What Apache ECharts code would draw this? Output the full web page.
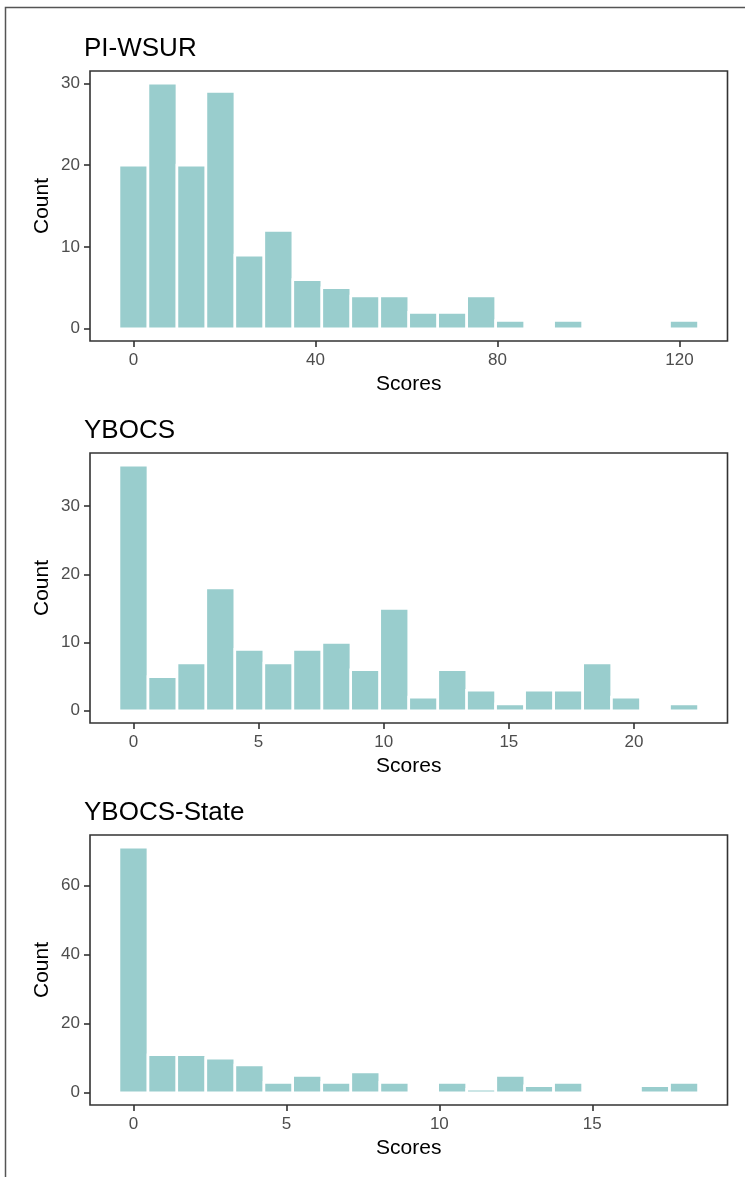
<!DOCTYPE html>
<html><head><meta charset="utf-8">
<script src="https://cdn.jsdelivr.net/npm/echarts@6/dist/echarts.min.js"></script>
<style>html,body{margin:0;padding:0;background:#fff}#c{width:745px;height:1177px}</style>
</head><body><div id="c"></div>
<script>
// ---- data ----
const panelTitles = ['PI-WSUR', 'YBOCS', 'YBOCS-State'];
const xAxisName = 'Scores';
const yAxisName = 'Count';

const pwCenters = [0, 6.37, 12.74, 19.11, 25.47, 31.84, 38.21, 44.58, 50.95, 57.32, 63.68, 70.05, 76.42, 82.79, 89.16, 95.53, 101.89, 108.26, 114.63, 121];
const pwCounts  = [20, 30, 20, 29, 9, 12, 6, 5, 4, 4, 2, 2, 4, 1, 0, 1, 0, 0, 0, 1];
const pwBinWidth = 6.37;
const pwXTicks = [0, 40, 80, 120];
const pwYTicks = [0, 10, 20, 30];

const ybCenters = [0, 1.16, 2.32, 3.47, 4.63, 5.79, 6.95, 8.11, 9.26, 10.42, 11.58, 12.74, 13.89, 15.05, 16.21, 17.37, 18.53, 19.68, 20.84, 22];
const ybCounts  = [36, 5, 7, 18, 9, 7, 9, 10, 6, 15, 2, 6, 3, 1, 3, 3, 7, 2, 0, 1];
const ybBinWidth = 1.158;
const ybXTicks = [0, 5, 10, 15, 20];
const ybYTicks = [0, 10, 20, 30];

const ysCenters = [0, 0.95, 1.89, 2.84, 3.79, 4.74, 5.68, 6.63, 7.58, 8.53, 9.47, 10.42, 11.37, 12.32, 13.26, 14.21, 15.16, 16.11, 17.05, 18];
const ysCounts  = [71, 11, 11, 10, 8, 3, 5, 3, 6, 3, 0, 3, 1, 5, 2, 3, 0, 0, 2, 3];
const ysBinWidth = 0.947;
const ysXTicks = [0, 5, 10, 15];
const ysYTicks = [0, 20, 40, 60];

// ---- layout / style ----
const FONT = "'Liberation Sans', Arial, sans-serif";
const BAR = '#99cdcd';
const panels = [
  {title: panelTitles[0], c: pwCenters, n: pwCounts, bw: pwBinWidth, xt: pwXTicks, yt: pwYTicks},
  {title: panelTitles[1], c: ybCenters, n: ybCounts, bw: ybBinWidth, xt: ybXTicks, yt: ybYTicks},
  {title: panelTitles[2], c: ysCenters, n: ysCounts, bw: ysBinWidth, xt: ysXTicks, yt: ysYTicks}
];
const tops = [71, 453, 835];
const gridH = 270;

const option = {
  animation: false,
  backgroundColor: '#fff',
  title: [], grid: [], xAxis: [], yAxis: [], series: [],
  graphic: [{
    type: 'polyline', silent: true,
    shape: {points: [[5.5, 1177], [5.5, 7.5], [745, 7.5]]},
    style: {stroke: '#555', lineWidth: 1.5, fill: null}
  }]
};

panels.forEach((p, i) => {
  const xmin = p.c[0] - 1.5 * p.bw;
  const xmax = p.c[p.c.length - 1] + 1.5 * p.bw;
  const ymax0 = Math.max.apply(null, p.n);
  const ymin = -0.05 * ymax0, ymax = ymax0 * 1.05;
  option.title.push({
    text: p.title, left: 79, top: tops[i] - 40,
    textStyle: {fontFamily: FONT, fontSize: 26, fontWeight: 'normal', color: '#000'}
  });
  option.grid.push({left: 90, right: 17.5, top: tops[i], height: gridH,
    show: true, borderColor: '#333', borderWidth: 1.6, backgroundColor: 'transparent'});
  option.xAxis.push({
    type: 'value', gridIndex: i, min: xmin, max: xmax,
    name: xAxisName, nameLocation: 'middle', nameGap: 33,
    nameTextStyle: {fontFamily: FONT, fontSize: 21, color: '#000'},
    axisLine: {show: false, onZero: false},
    axisTick: {show: true, length: 6, customValues: p.xt, lineStyle: {color: '#333', width: 1.6}},
    axisLabel: {customValues: p.xt, margin: 11, fontFamily: FONT, fontSize: 17, color: '#4d4d4d'},
    splitLine: {show: false}
  });
  option.yAxis.push({
    type: 'value', gridIndex: i, min: ymin, max: ymax,
    name: yAxisName, nameLocation: 'middle', nameGap: 37, nameRotate: 90,
    nameMoveOverlap: false,
    nameTextStyle: {fontFamily: FONT, fontSize: 21, color: '#000'},
    axisLine: {show: false, onZero: false},
    axisTick: {show: true, length: 6, customValues: p.yt, lineStyle: {color: '#333', width: 1.6}},
    axisLabel: {customValues: p.yt, margin: 10, fontFamily: FONT, fontSize: 17, color: '#4d4d4d'},
    splitLine: {show: false}
  });
  const bw = p.bw;
  option.series.push({
    type: 'custom', xAxisIndex: i, yAxisIndex: i,
    data: p.c.map((c, k) => [c, p.n[k]]),
    renderItem: function (params, api) {
      const c = api.value(0), v = api.value(1);
      if (!v) return null;
      const p0 = api.coord([c - bw / 2, v]);
      const p1 = api.coord([c + bw / 2, 0]);
      return {
        type: 'rect',
        shape: {x: p0[0], y: p0[1], width: p1[0] - p0[0], height: p1[1] - p0[1]},
        style: {fill: BAR, stroke: '#fff', lineWidth: 2.6}
      };
    }
  });
});

const chart = echarts.init(document.getElementById('c'), null, {renderer: 'canvas'});
chart.setOption(option);
</script>
</body></html>
